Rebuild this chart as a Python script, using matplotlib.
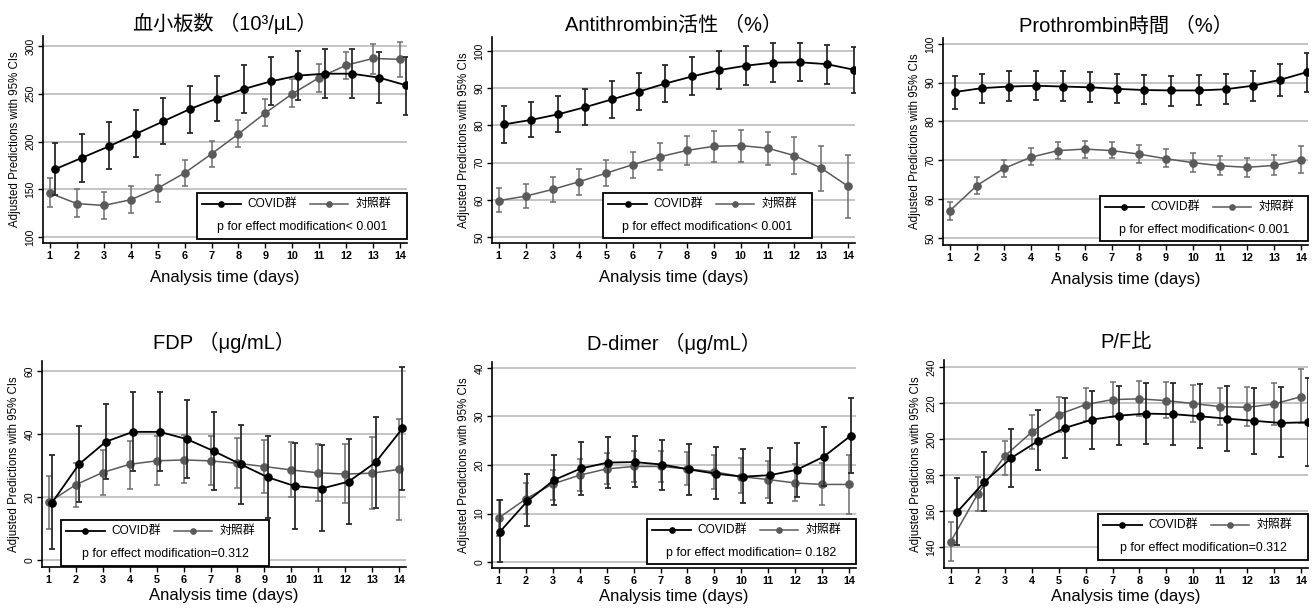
import matplotlib
matplotlib.use("Agg")
import matplotlib.pyplot as plt
from matplotlib.patches import Rectangle
from matplotlib.lines import Line2D
import numpy as np

plt.rcParams['font.family'] = ['Liberation Sans', 'Noto Sans CJK JP', 'DejaVu Sans']

days = np.arange(1, 15)

# 血小板数
plt_covid = [171, 183, 195, 208, 221, 234, 245, 255, 263, 269, 271, 271, 267, 259]
plt_covid_lo = [144, 158, 171, 184, 197, 209, 221, 230, 238, 243, 246, 246, 240, 228]
plt_covid_hi = [198, 208, 220, 233, 246, 258, 269, 280, 288, 295, 297, 297, 294, 289]
plt_ctrl = [146, 135, 133, 139, 151, 167, 187, 208, 230, 250, 267, 280, 287, 286]
plt_ctrl_lo = [131, 121, 119, 125, 137, 153, 173, 194, 216, 236, 252, 265, 271, 268]
plt_ctrl_hi = [162, 150, 147, 153, 165, 181, 201, 222, 244, 265, 281, 294, 302, 304]

# Antithrombin活性
at_covid = [80.3, 81.5, 83.0, 84.9, 87.0, 89.1, 91.3, 93.2, 94.9, 96.1, 96.9, 97.0, 96.5, 95.0]
at_covid_lo = [75.3, 76.8, 78.3, 80.0, 82.1, 84.3, 86.4, 88.1, 89.8, 90.9, 91.6, 91.9, 91.2, 88.8]
at_covid_hi = [85.3, 86.3, 88.0, 89.9, 92.1, 94.1, 96.3, 98.3, 100.1, 101.5, 102.3, 102.3, 101.7, 101.1]
at_ctrl = [59.8, 61.0, 62.8, 64.9, 67.2, 69.5, 71.6, 73.3, 74.4, 74.6, 73.9, 71.9, 68.5, 63.6]
at_ctrl_lo = [56.8, 57.9, 59.4, 61.4, 63.7, 66.0, 67.9, 69.5, 70.3, 70.3, 69.4, 67.0, 62.5, 55.2]
at_ctrl_hi = [63.2, 64.2, 66.1, 68.4, 70.8, 73.0, 75.2, 77.1, 78.5, 78.9, 78.3, 76.9, 74.5, 72.0]

# Prothrombin時間
pt_covid = [87.6, 88.6, 89.0, 89.2, 89.0, 88.8, 88.4, 88.1, 88.0, 88.0, 88.3, 89.2, 90.7, 92.7]
pt_covid_lo = [83.3, 84.7, 85.3, 85.6, 85.4, 85.1, 84.8, 84.4, 84.1, 84.2, 84.5, 85.4, 86.6, 87.7]
pt_covid_hi = [91.8, 92.3, 92.9, 93.0, 92.9, 92.7, 92.2, 91.9, 91.8, 91.9, 92.3, 93.1, 94.7, 97.7]
pt_ctrl = [57.0, 63.5, 67.9, 70.8, 72.5, 72.9, 72.5, 71.6, 70.4, 69.4, 68.6, 68.2, 68.7, 70.1]
pt_ctrl_lo = [54.6, 61.4, 65.8, 68.8, 70.3, 70.7, 70.5, 69.4, 68.2, 67.1, 66.1, 65.7, 66.1, 66.7]
pt_ctrl_hi = [59.4, 65.6, 70.1, 73.1, 74.7, 75.1, 74.7, 73.9, 72.8, 71.8, 71.0, 70.7, 71.3, 73.8]

# FDP
fdp_covid = [18.2, 30.4, 37.6, 40.7, 40.7, 38.4, 34.6, 30.4, 26.3, 23.5, 22.7, 24.9, 31.0, 41.8]
fdp_covid_lo = [3.6, 18.4, 25.6, 28.2, 28.2, 26.2, 22.2, 17.9, 13.2, 9.8, 9.3, 11.6, 16.6, 22.4]
fdp_covid_hi = [33.2, 42.6, 49.7, 53.5, 53.5, 50.8, 46.9, 42.9, 39.4, 37.3, 36.4, 38.3, 45.3, 61.2]
fdp_ctrl = [18.3, 23.9, 27.8, 30.4, 31.5, 31.8, 31.5, 30.7, 29.7, 28.6, 27.7, 27.3, 27.6, 28.8]
fdp_ctrl_lo = [9.8, 16.8, 20.5, 22.7, 23.9, 24.5, 23.9, 22.8, 21.3, 19.9, 18.7, 18.0, 16.2, 12.7]
fdp_ctrl_hi = [26.8, 30.9, 35.0, 37.8, 39.4, 39.6, 39.3, 38.8, 38.2, 37.4, 36.7, 36.8, 39.1, 44.9]

# D-dimer
dd_covid = [6.3, 12.5, 16.9, 19.3, 20.5, 20.6, 20.1, 19.1, 18.2, 17.6, 17.9, 19.0, 21.7, 26.0]
dd_covid_lo = [0.0, 7.4, 11.7, 13.9, 15.2, 15.5, 14.9, 13.9, 12.9, 12.1, 12.2, 13.4, 15.7, 18.3]
dd_covid_hi = [12.8, 18.1, 22.1, 24.7, 25.8, 25.9, 25.2, 24.4, 23.7, 23.2, 23.5, 24.6, 27.8, 33.8]
dd_ctrl = [9.1, 13.0, 16.1, 17.9, 19.2, 19.7, 19.7, 19.2, 18.6, 17.6, 17.0, 16.3, 16.0, 16.0]
dd_ctrl_lo = [5.4, 9.9, 12.8, 14.6, 16.0, 16.4, 16.4, 15.9, 15.1, 14.3, 13.2, 12.6, 11.7, 10.0]
dd_ctrl_hi = [12.8, 16.2, 19.0, 21.2, 22.4, 22.9, 22.9, 22.6, 22.1, 21.4, 20.8, 20.2, 20.5, 22.1]

# P/F比
pf_covid = [159.6, 176.2, 189.5, 199.0, 206.2, 210.8, 213.0, 214.1, 213.8, 212.6, 211.3, 210.1, 208.9, 209.3]
pf_covid_lo = [141.1, 160.0, 173.3, 182.9, 189.5, 194.5, 196.9, 197.3, 196.7, 195.1, 193.6, 191.9, 189.9, 185.1]
pf_covid_hi = [178.4, 192.9, 205.8, 216.0, 222.8, 226.9, 229.6, 230.9, 230.9, 230.6, 229.3, 228.4, 229.1, 233.9]
pf_ctrl = [143.0, 169.4, 190.5, 203.8, 213.6, 219.1, 221.9, 222.3, 221.3, 219.7, 218.0, 217.6, 219.5, 223.5]
pf_ctrl_lo = [132.4, 160.1, 180.1, 194.3, 204.0, 209.9, 212.3, 212.5, 211.5, 209.3, 207.8, 207.3, 208.0, 208.9]
pf_ctrl_hi = [153.7, 178.6, 198.8, 213.4, 223.2, 228.5, 231.7, 232.3, 231.5, 230.0, 228.5, 228.7, 231.3, 238.7]

titles = ['血小板数 （10³/μL）', 'Antithrombin活性 （%）', 'Prothrombin時間 （%）',
          'FDP （μg/mL）', 'D-dimer （μg/mL）', 'P/F比']
p_texts = ['p for effect modification< 0.001', 'p for effect modification< 0.001',
           'p for effect modification< 0.001', 'p for effect modification=0.312',
           'p for effect modification= 0.182', 'p for effect modification=0.312']

W, H = 1314, 609
fig = plt.figure(figsize=(W / 100, H / 100), dpi=100)

# axes boxes in pixels: left, right, top, bottom
boxes = [(43, 407, 36, 243), (492, 855, 37, 243), (943, 1308, 38, 245),
         (42, 406, 361, 567), (492, 856, 362, 568), (944, 1308, 360, 568)]
ylims = [(93.7, 310.5), (48.4, 103.8), (48.2, 101.5), (-2.2, 63.2), (-1.2, 41.2), (128.3, 243.9)]
yticks = [np.arange(100, 301, 50), np.arange(50, 101, 10), np.arange(50, 101, 10),
          np.arange(0, 61, 20), np.arange(0, 41, 10), np.arange(140, 241, 20)]
offsets = [0.2, 0.2, 0.2, 0.12, 0.05, 0.25]
# legend box in axes fraction: x0, x1, y_top, y_bottom
leg_boxes = [(0.423, 1.0, 0.242, 0.019), (0.306, 0.882, 0.243, 0.024), (0.430, 1.0, 0.237, 0.019),
             (0.052, 0.624, 0.228, 0.005), (0.426, 1.0, 0.238, 0.019), (0.423, 1.0, 0.26, 0.038)]

data = [
    (plt_covid, plt_covid_lo, plt_covid_hi, plt_ctrl, plt_ctrl_lo, plt_ctrl_hi),
    (at_covid, at_covid_lo, at_covid_hi, at_ctrl, at_ctrl_lo, at_ctrl_hi),
    (pt_covid, pt_covid_lo, pt_covid_hi, pt_ctrl, pt_ctrl_lo, pt_ctrl_hi),
    (fdp_covid, fdp_covid_lo, fdp_covid_hi, fdp_ctrl, fdp_ctrl_lo, fdp_ctrl_hi),
    (dd_covid, dd_covid_lo, dd_covid_hi, dd_ctrl, dd_ctrl_lo, dd_ctrl_hi),
    (pf_covid, pf_covid_lo, pf_covid_hi, pf_ctrl, pf_ctrl_lo, pf_ctrl_hi),
]

c_covid = '#000000'
c_ctrl = '#5a5a5a'


def draw_legend(ax, lb, ptext, aw, ah):
    x0, x1, yt, yb = lb
    ax.add_patch(Rectangle((x0, yb), x1 - x0, yt - yb, transform=ax.transAxes,
                           facecolor='white', edgecolor='black', lw=1.3, zorder=10, clip_on=False))
    px = lambda d: d / aw
    py = lambda d: d / ah
    yr = yt - py(11)
    for (s0, s1, col, lw, lab, tx) in [(5, 44, c_covid, 1.3, 'COVID群', 50),
                                        (113, 151, c_ctrl, 1.1, '対照群', 159)]:
        ax.add_line(Line2D([x0 + px(s0), x0 + px(s1)], [yr, yr], color=col, lw=lw,
                           transform=ax.transAxes, zorder=11))
        ax.add_line(Line2D([x0 + px((s0 + s1) / 2)], [yr], color=col, marker='o', ms=3.8,
                           transform=ax.transAxes, zorder=11))
        ax.text(x0 + px(tx), yr, lab, transform=ax.transAxes, fontsize=8.6,
                va='center', ha='left', zorder=12)
    ax.text((x0 + x1) / 2, yt - py(34), ptext, transform=ax.transAxes, fontsize=8.9,
            va='center', ha='center', zorder=12)


for i in range(6):
    l, r, t, b = boxes[i]
    ax = fig.add_axes([l / W, 1 - b / H, (r - l) / W, (b - t) / H])
    cv, cvlo, cvhi, ct, ctlo, cthi = data[i]
    cv, cvlo, cvhi = np.array(cv), np.array(cvlo), np.array(cvhi)
    ct, ctlo, cthi = np.array(ct), np.array(ctlo), np.array(cthi)
    xc = days + offsets[i]
    ax.errorbar(days, ct, yerr=[ct - ctlo, cthi - ct], fmt='none', ecolor='#6e6e6e',
                elinewidth=1.1, capsize=2.5, capthick=1.1, zorder=3)
    ax.plot(days, ct, color=c_ctrl, lw=1.1, marker='o', ms=5.2, zorder=4)
    ax.errorbar(xc, cv, yerr=[cv - cvlo, cvhi - cv], fmt='none', ecolor='#2a2a2a',
                elinewidth=1.3, capsize=2.5, capthick=1.3, zorder=5)
    ax.plot(xc, cv, color=c_covid, lw=1.3, marker='o', ms=5.2, zorder=6)

    ax.set_xlim(0.75, 14.25)
    ax.set_ylim(*ylims[i])
    ax.set_xticks(days)
    ax.set_yticks(yticks[i])
    ax.yaxis.grid(True, color='#b4b4b4', lw=1.1)
    ax.set_axisbelow(True)
    for s in ['top', 'right']:
        ax.spines[s].set_visible(False)
    for s in ['left', 'bottom']:
        ax.spines[s].set_linewidth(1.2)
    ax.tick_params(axis='x', length=3.5, width=1, pad=2.5, labelsize=7.8)
    ax.tick_params(axis='y', length=3.5, width=1, pad=2, labelsize=7.5)
    for lab in ax.get_xticklabels():
        lab.set_fontweight('bold')
    for lab in ax.get_yticklabels():
        lab.set_rotation(90)
        lab.set_va('center')
    ax.set_ylabel('Adjusted Predictions with 95% CIs', fontsize=8.3, labelpad=3)
    top_row = i < 3
    ax.set_xlabel('Analysis time (days)', fontsize=12, labelpad=6 if top_row else 2)
    ax.set_title(titles[i], fontsize=14.5, pad=4 if top_row else 8.5)
    draw_legend(ax, leg_boxes[i], p_texts[i], r - l, b - t)

fig.savefig('out.png', dpi=100)
